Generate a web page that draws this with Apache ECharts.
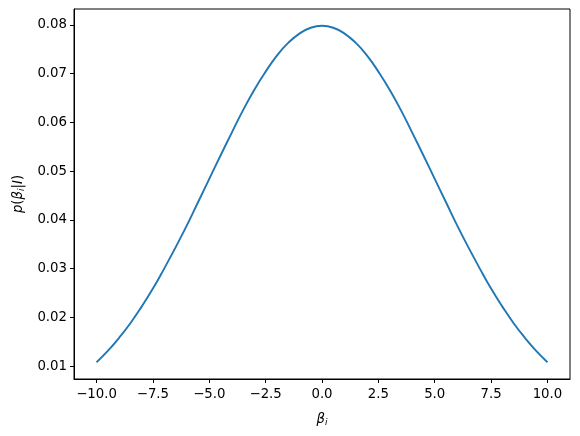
<!DOCTYPE html>
<html>
<head>
<meta charset="utf-8">
<script src="https://cdn.jsdelivr.net/npm/echarts@6/dist/echarts.min.js"></script>
<style>
  html, body { margin: 0; padding: 0; background: #fff; }
  #main { width: 580px; height: 436px; }
</style>
</head>
<body>
<div id="main"></div>
<script>
// beta_i values
const betaVals = [
  -10, -9.5, -9, -8.5, -8, -7.5, -7, -6.5, -6, -5.5, -5, -4.5, -4, -3.5, -3, -2.5, -2, -1.5, -1, -0.5,
  0, 0.5, 1, 1.5, 2, 2.5, 3, 3.5, 4, 4.5, 5, 5.5, 6, 6.5, 7, 7.5, 8, 8.5, 9, 9.5, 10
]
// p(beta_i|I)
const probVals = [
  0.0108, 0.0131, 0.0158, 0.0188, 0.0222, 0.0259, 0.0300, 0.0343, 0.0388, 0.0436,
  0.0484, 0.0532, 0.0579, 0.0625, 0.0667, 0.0704, 0.0737, 0.0763, 0.0782, 0.0794,
  0.0798,
  0.0794, 0.0782, 0.0763, 0.0737, 0.0704, 0.0667, 0.0625, 0.0579, 0.0532, 0.0484,
  0.0436, 0.0388, 0.0343, 0.0300, 0.0259, 0.0222, 0.0188, 0.0158, 0.0131, 0.0108
]
const xTicks = [-10, -7.5, -5, -2.5, 0, 2.5, 5, 7.5, 10]
const yTicks = [0.01, 0.02, 0.03, 0.04, 0.05, 0.06, 0.07, 0.08]

const font = 'DejaVu Sans'
const fs = 13.3
const chart = echarts.init(document.getElementById('main'))

const option = {
  animation: false,
  grid: {
    left: 74, right: 10, top: 9, bottom: 57,
    show: true, borderColor: '#000', borderWidth: 1
  },
  xAxis: {
    type: 'value',
    min: -11,
    max: 11,
    splitLine: { show: false },
    axisLine: { show: true, onZero: false, lineStyle: { color: '#000', width: 1 } },
    axisTick: { show: true, length: 4, customValues: xTicks, lineStyle: { color: '#000' } },
    axisLabel: {
      customValues: xTicks,
      color: '#000', fontFamily: font, fontSize: fs, margin: 9,
      formatter: v => (v < 0 ? '\u2212' : '') + Math.abs(v).toFixed(1)
    },
    name: '{it|β}{sub|i}',
    nameLocation: 'middle',
    nameGap: 33,
    nameTextStyle: {
      rich: {
        it: { fontFamily: font, fontStyle: 'italic', fontSize: fs, color: '#000' },
        sub: { fontFamily: font, fontStyle: 'italic', fontSize: 9, color: '#000', verticalAlign: 'bottom', padding: [6, 0, 0, 0] }
      }
    }
  },
  yAxis: {
    type: 'value',
    min: 0.00735,
    max: 0.08325,
    splitLine: { show: false },
    axisLine: { show: true, onZero: false, lineStyle: { color: '#000', width: 1 } },
    axisTick: { show: true, length: 4, customValues: yTicks, lineStyle: { color: '#000' } },
    axisLabel: {
      customValues: yTicks,
      color: '#000', fontFamily: font, fontSize: fs, margin: 7,
      formatter: v => v.toFixed(2)
    },
    name: '{it|p}{n|(}{it|β}{sub|i}{n||}{it|I}{n|)}',
    nameLocation: 'middle',
    nameRotate: 90,
    nameGap: 48,
    nameTextStyle: {
      rich: {
        it: { fontFamily: font, fontStyle: 'italic', fontSize: fs, color: '#000' },
        n: { fontFamily: font, fontSize: fs, color: '#000' },
        sub: { fontFamily: font, fontStyle: 'italic', fontSize: 9, color: '#000', verticalAlign: 'bottom', padding: [6, 0, 0, 0] }
      }
    }
  },
  series: [
    {
      type: 'line',
      data: betaVals.map((b, i) => [b, probVals[i]]),
      smooth: true,
      showSymbol: false,
      lineStyle: { color: '#1f77b4', width: 1.9 }
    }
  ]
}
chart.setOption(option)
</script>
</body>
</html>
